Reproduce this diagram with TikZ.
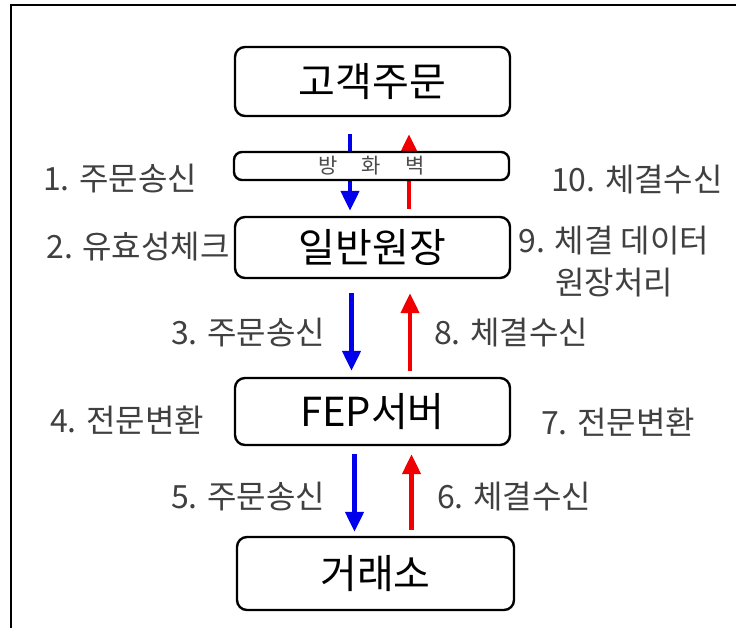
\documentclass[tikz,border=0pt]{standalone}
\usepackage{fontspec}
\newfontfamily\kr{Noto Sans CJK KR}
\usetikzlibrary{arrows.meta}
\tikzset{
  box/.style={draw=black, line width=2.4pt, rounded corners=10pt, fill=white,
    inner sep=0pt, minimum width=275pt, font=\kr\fontsize{40}{44}\selectfont, text=black},
  lbl/.style={inner sep=0pt, font=\kr\fontsize{32}{42}\selectfont, text=black!75},
  fwbox/.style={draw=black, line width=2.4pt, rounded corners=8pt, fill=white,
    inner sep=0pt, minimum width=275pt, font=\kr\fontsize{21}{24}\selectfont, text=black!70},
  downarrow/.style={draw={rgb,255:red,0;green,0;blue,235}, line width=4.5pt,
    -{Triangle[width=18pt,length=20pt]}},
  uparrow/.style={draw={rgb,255:red,240;green,0;blue,0}, line width=4.5pt,
    -{Triangle[width=18pt,length=20pt]}},
}
\begin{document}
\begin{tikzpicture}[x=1pt,y=-1pt]
\useasboundingbox (0,0) rectangle (736,627);
\clip (0,0) rectangle (736,627);
\fill[white] (0,0) rectangle (736,627);
\draw[line width=2.2pt] (11,640) -- (11,5) -- (750,5);

% boxes
\node[box, minimum height=69pt] (gaek) at (372.5,81.5) {고객주문};
\node[box, minimum height=61pt] (ilban) at (372.5,247.5) {일반원장};
\node[box, minimum height=67pt] (fep) at (372.5,411.5) {FEP서버};
\node[box, minimum height=73pt, minimum width=277pt] (exch) at (375.5,573.5) {거래소};

% arrows through firewall (drawn first, firewall box covers them)
\draw[downarrow] ([xshift=-22.5pt,yshift=-17pt]gaek.south) -- ([xshift=-22.5pt,yshift=5pt]ilban.north);
\draw[uparrow] ([xshift=36.5pt,yshift=7pt]ilban.north) -- ([xshift=36.5pt,yshift=-17pt]gaek.south);

\node[fwbox, minimum height=28pt] (fw) at (371.5,166) {방\hspace{24pt}화\hspace{24pt}벽};

\draw[downarrow] ([xshift=-21pt,yshift=-14pt]ilban.south) -- ([xshift=-21pt,yshift=6pt]fep.north);
\draw[uparrow] ([xshift=37.5pt,yshift=6pt]fep.north) -- ([xshift=37.5pt,yshift=-14pt]ilban.south);

\draw[downarrow] ([xshift=-18pt,yshift=-8pt]fep.south) -- ([xshift=-21pt,yshift=4pt]exch.north);
\draw[uparrow] ([xshift=36pt,yshift=6pt]exch.north) -- ([xshift=39pt,yshift=-8pt]fep.south);

% labels
\node[lbl] (l1) at (120,179) {1. 주문송신};
\node[lbl] (l10) at (637,180) {10. 체결수신};
\node[lbl] (l2) at (138,247) {2. 유효성체크};
\node[lbl, align=center, anchor=north] (l9) at (614,226) {9. 체결 데이터\\원장처리};
\node[lbl] (l3) at (248,333) {3. 주문송신};
\node[lbl] (l8) at (511,333) {8. 체결수신};
\node[lbl] (l4) at (127,420) {4. 전문변환};
\node[lbl] (l7) at (618,422) {7. 전문변환};
\node[lbl] (l5) at (248,497) {5. 주문송신};
\node[lbl] (l6) at (514,497) {6. 체결수신};
\end{tikzpicture}
\end{document}
